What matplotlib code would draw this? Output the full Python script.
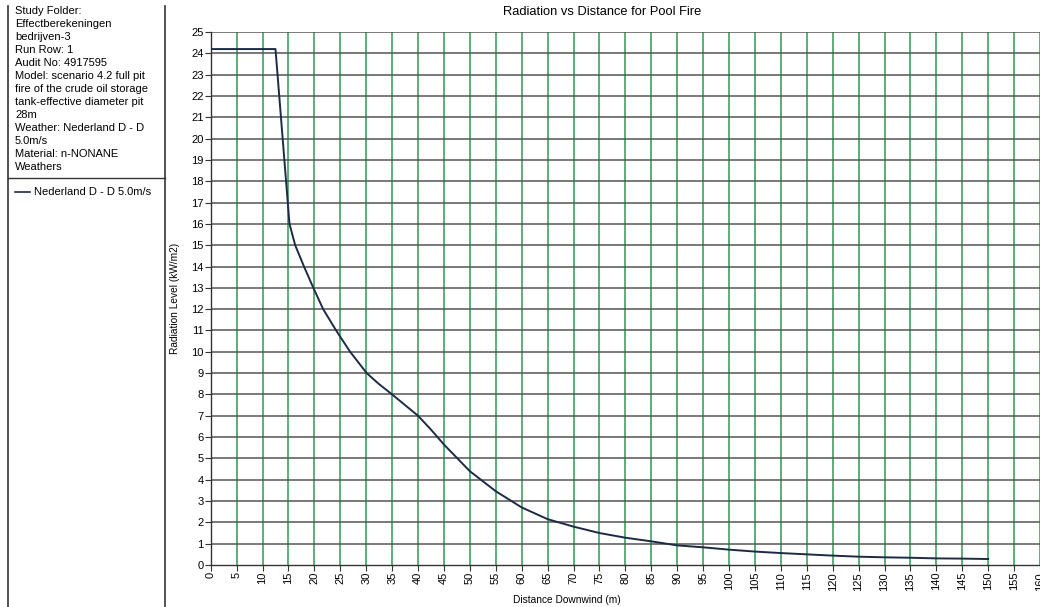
import matplotlib.pyplot as plt
from matplotlib.lines import Line2D

plt.rcParams['font.family'] = ['Liberation Sans', 'DejaVu Sans']

# curve
distance = [0, 12.5, 15.2, 16.3, 18, 19.8, 21.7, 24.2, 26.9, 30.1, 32.4, 35, 40, 42.5,
            45, 50, 55, 60, 65, 70, 75, 80, 85, 90, 95, 100, 105, 110, 115, 120,
            125, 130, 135, 140, 145, 150]
radiation = [24.2, 24.2, 16.0, 15.0, 14.0, 13.0, 12.0, 11.0, 10.0, 9.0, 8.5, 8.0, 7.0,
             6.35, 5.65, 4.4, 3.46, 2.7, 2.15, 1.8, 1.5, 1.28, 1.11, 0.92, 0.83, 0.72,
             0.63, 0.56, 0.5, 0.44, 0.39, 0.36, 0.34, 0.31, 0.3, 0.28]

x_ticks = list(range(0, 165, 5))
y_ticks = list(range(0, 26))

info_lines = [
    'Study Folder:',
    'Effectberekeningen',
    'bedrijven-3',
    'Run Row: 1',
    'Audit No: 4917595',
    'Model: scenario 4.2 full pit',
    'fire of the crude oil storage',
    'tank-effective diameter pit',
    '28m',
    'Weather: Nederland D - D',
    '5.0m/s',
    'Material: n-NONANE',
    'Weathers',
]
series_name = 'Nederland D - D 5.0m/s'


def main() -> None:
    W, H = 1040, 607
    fig = plt.figure(figsize=(W / 100, H / 100), dpi=100)
    ax = fig.add_axes([210.7 / W, 42 / H, (1040 - 210.7) / W, (565 - 32) / H])

    ax.set_xlim(0, 160)
    ax.set_ylim(0, 25)
    ax.set_xticks(x_ticks)
    ax.set_yticks(y_ticks)
    ax.set_xticklabels([str(v) for v in x_ticks], rotation=90, fontsize=8)
    ax.set_yticklabels([str(v) for v in y_ticks], fontsize=8)
    ax.tick_params(length=4, width=0.8, color='#333333', pad=1)

    for v in x_ticks[1:]:
        ax.axvline(v, color='#2f9a55', lw=1.1, zorder=1)
    for v in y_ticks[1:]:
        ax.axhline(v, color='#555555', lw=1.1, zorder=1)

    ax.plot(distance, radiation, color='#1c2b45', lw=1.4, zorder=3)

    for s in ['top', 'right']:
        ax.spines[s].set_visible(False)
    for s in ['left', 'bottom']:
        ax.spines[s].set_color('#333333')
        ax.spines[s].set_linewidth(1.0)

    fig.text(602 / W, 1 - 12 / H, 'Radiation vs Distance for Pool Fire',
             ha='center', va='center', fontsize=9.3)
    fig.text(175 / W, 1 - 298 / H, 'Radiation Level (kW/m2)', rotation=90,
             ha='center', va='center', fontsize=7.3)
    fig.text(567 / W, 1 - 600 / H, 'Distance Downwind (m)',
             ha='center', va='center', fontsize=7.3)

    # left info panel
    fig.add_artist(Line2D([8 / W, 8 / W], [0, 1 - 6 / H], color='#333333', lw=1.2))
    fig.add_artist(Line2D([165 / W, 165 / W], [0, 1 - 6 / H], color='#333333', lw=1.2))
    sep_y = 1 - 178 / H
    fig.add_artist(Line2D([8 / W, 165 / W], [sep_y, sep_y], color='#333333', lw=1.0))

    for i, line in enumerate(info_lines):
        fig.text(15 / W, 1 - (11 + i * 13.0) / H, line, ha='left', va='center',
                 fontsize=8)

    ly = 1 - 192 / H
    fig.add_artist(Line2D([15 / W, 30 / W], [ly, ly], color='#1c2b45', lw=1.2))
    fig.text(34 / W, ly, series_name, ha='left', va='center', fontsize=8)

    fig.savefig('out.png', dpi=100)


if __name__ == '__main__':
    main()
